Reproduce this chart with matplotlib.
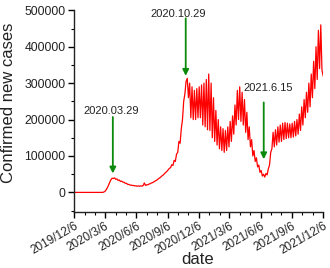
import matplotlib
matplotlib.use("Agg")
import matplotlib.pyplot as plt
import matplotlib.dates as mdates
import pandas as pd

plt.rcParams['font.family'] = ['Liberation Sans', 'DejaVu Sans']

# Series: one value every 3.5 days starting 2019-12-06 (cases)
start_date = "2019-12-06"
step = "84h"
cases_k = [
    0, 0, 0, 0, 0, 0, 0, 0, 0, 0,
    0, 0, 0, 0, 0, 0, 0, 0, 0, 0,
    0, 0, 0, 0, 0, 1, 3, 7, 13, 20,
    28, 35, 39, 38, 40, 36, 37, 33, 34, 30,
    31, 28, 28, 25, 25, 22, 22, 20, 20, 19,
    19, 18, 18, 17, 18, 17, 18, 17, 19, 26,
    19, 21, 21, 23, 24, 26, 27, 29, 31, 33,
    35, 38, 40, 43, 46, 48, 52, 55, 58, 62,
    66, 68, 76, 74, 88, 85, 105, 110, 140, 135,
    175, 200, 250, 270, 305, 313, 260, 300, 205, 290,
    200, 280, 200, 285, 205, 290, 205, 295, 185, 300,
    180, 310, 172, 325, 170, 300, 150, 260, 140, 225,
    130, 200, 120, 180, 115, 175, 110, 170, 115, 180,
    125, 195, 140, 210, 160, 240, 185, 280, 200, 290,
    195, 275, 185, 255, 165, 220, 145, 180, 125, 145,
    100, 115, 85, 95, 70, 75, 55, 60, 45, 50,
    42, 52, 48, 65, 75, 110, 120, 165, 125, 172,
    130, 180, 138, 185, 140, 190, 145, 192, 148, 190,
    150, 188, 150, 190, 152, 195, 155, 200, 160, 215,
    170, 235, 185, 255, 205, 275, 220, 300, 235, 325,
    260, 360, 285, 400, 310, 445, 340, 460, 335, 320,
]

tick_dates = ["2019-12-06", "2020-03-06", "2020-06-06", "2020-09-06",
              "2020-12-06", "2021-03-06", "2021-06-06", "2021-09-06",
              "2021-12-06"]
tick_labels = ["2019/12/6", "2020/3/6", "2020/6/6", "2020/9/6",
               "2020/12/6", "2021/3/6", "2021/6/6", "2021/9/6",
               "2021/12/6"]

ann_dates = ["2020-03-29", "2020-10-29", "2021-06-15"]
ann_labels = ["2020.03.29", "2020.10.29", "2021.6.15"]
ann_tip = [52000, 320000, 91000]
ann_top = [207000, 478000, 247000]
ann_text_dates = ["2020-03-25", "2020-10-08", "2021-06-27"]
ann_text_y = [223000, 490000, 287000]

dates = pd.date_range(start_date, periods=len(cases_k), freq=step)
values = [v * 1000 for v in cases_k]

fig = plt.figure(figsize=(3.3, 2.68), dpi=100)
ax = fig.add_axes([74 / 330, 56.3 / 268, 249 / 330, 201.4 / 268])

ax.plot(dates, values, color='red', lw=0.9)

for d, tip, top in zip(ann_dates, ann_tip, ann_top):
    dt = pd.Timestamp(d)
    ax.annotate('', xy=(dt, tip), xytext=(dt, top),
                arrowprops=dict(arrowstyle='-|>', color='#0a8a0a', lw=1.3,
                                mutation_scale=9, shrinkA=0, shrinkB=0))
for td, ty, lab in zip(ann_text_dates, ann_text_y, ann_labels):
    ax.text(pd.Timestamp(td), ty, lab, ha='center', va='center', fontsize=8,
            color='#222222', clip_on=False)

ax.set_xlim(pd.Timestamp("2019-12-06"), pd.Timestamp("2021-12-06"))
ax.set_ylim(-53000, 500000)

ax.set_xticks([pd.Timestamp(t) for t in tick_dates])
ax.set_xticklabels(tick_labels, rotation=30, ha='right', rotation_mode='anchor',
                   fontsize=8.5, color='#222222')
ax.xaxis.set_minor_locator(mdates.MonthLocator(bymonthday=6))
ax.set_yticks([0, 100000, 200000, 300000, 400000, 500000])
ax.set_yticklabels(["0", "100000", "200000", "300000", "400000", "500000"],
                   fontsize=8.8, color='#222222')
ax.yaxis.set_minor_locator(matplotlib.ticker.MultipleLocator(50000))

ax.tick_params(which='major', direction='out', length=4, width=1, pad=2)
ax.tick_params(which='minor', direction='out', length=2, width=0.8)

for s in ['top', 'right']:
    ax.spines[s].set_visible(False)
for s in ['left', 'bottom']:
    ax.spines[s].set_linewidth(1)
    ax.spines[s].set_color('#222222')

ax.set_xlabel('date', fontsize=12, color='#222222', va='center')
ax.xaxis.set_label_coords(0.495, (268 - 260 - 56.3) / 201.4)
ax.set_ylabel('Confirmed new cases', fontsize=12, color='#222222', va='center')
ax.yaxis.set_label_coords((9 - 74) / 249, (268 - 103 - 56.3) / 201.4)

fig.savefig('out.png', dpi=100)
